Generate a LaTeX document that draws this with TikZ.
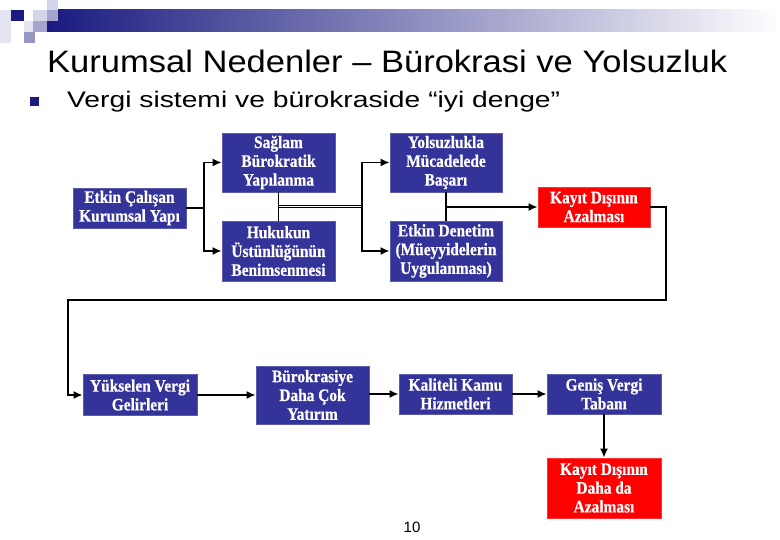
\documentclass[tikz,border=0pt]{standalone}
\usepackage{fontspec}
\usepackage{graphicx}
\setmainfont{Liberation Serif}
\newfontfamily\arialf{Liberation Sans}
\newfontfamily\boxfont{Liberation Serif}[FakeStretch=0.88, FakeBold=0.6]
\usetikzlibrary{arrows.meta}
\definecolor{boxblue}{HTML}{333399}
\definecolor{boxred}{HTML}{FF0000}
\definecolor{navyd}{HTML}{1A1A80}
\definecolor{lavA}{HTML}{E4E4F2}
\definecolor{lavB}{HTML}{D4D4EA}
\definecolor{lavC}{HTML}{A4A4CE}
\definecolor{lavD}{HTML}{9696C4}
\tikzset{
  box/.style={fill=boxblue, draw=boxblue!80!white, line width=0.8pt, text=white,
    font=\boxfont\bfseries\fontsize{17.5}{18.8}\selectfont, align=center, inner sep=0pt},
  redbox/.style={box, fill=boxred, draw=boxred!80!white},
  conn/.style={line width=1.7pt, black},
  arr/.style={conn, -{Latex[length=9pt,width=8pt]}}
}
\begin{document}
\begin{tikzpicture}[x=1pt,y=-1pt]
\useasboundingbox (0,0) rectangle (780,540);
% decoration
\shade[left color=navyd, right color=white] (47,10) rectangle (780,32);
\fill[lavA] (0,10) rectangle (11,43);
\fill[navyd] (11,10) rectangle (24,21);
\fill[lavB] (33,10) rectangle (47,21);
\fill[lavB] (47,0) rectangle (58,10);
\fill[lavC] (47,10) rectangle (58,21);
\fill[lavA] (24,21) rectangle (33,32);
\fill[lavC] (33,21) rectangle (47,32);
\fill[lavD] (24,32) rectangle (35,43);
% title
\node[anchor=west, inner sep=0pt] (title) at (47,61)
  {\resizebox{680pt}{\height}{\arialf\fontsize{31}{33}\selectfont Kurumsal Nedenler – Bürokrasi ve Yolsuzluk}};
\fill[navyd] (30,97) rectangle (39,106);
\node[anchor=west, inner sep=0pt] (bullet) at (67,102)
  {\resizebox{493pt}{\height}{\arialf\fontsize{22.5}{24}\selectfont Vergi sistemi ve bürokraside “iyi denge”}};
% boxes
\node[box, minimum width=113pt, minimum height=40pt] (etkin) at (129.5,208) {Etkin Çalışan\\Kurumsal Yapı};
\node[box, minimum width=113pt, minimum height=59pt] (saglam) at (278.5,162.5) {Sağlam\\Bürokratik\\Yapılanma};
\node[box, minimum width=113pt, minimum height=60pt] (hukuk) at (278.5,251) {Hukukun\\Üstünlüğünün\\Benimsenmesi};
\node[box, minimum width=112pt, minimum height=59pt] (yolsuz) at (446,162.5) {Yolsuzlukla\\Mücadelede\\Başarı};
\node[box, minimum width=112pt, minimum height=60pt] (denetim) at (446,251) {Etkin Denetim\\(Müeyyidelerin\\Uygulanması)};
\node[redbox, minimum width=112pt, minimum height=40pt] (kayit1) at (594,207) {Kayıt Dışının\\Azalması};
\node[box, minimum width=114pt, minimum height=41pt] (yuksel) at (140,395) {Yükselen Vergi\\Gelirleri};
\node[box, minimum width=113pt, minimum height=58pt] (burok) at (312.5,395) {Bürokrasiye\\Daha Çok\\Yatırım};
\node[box, minimum width=113pt, minimum height=40pt] (kalite) at (455.5,394) {Kaliteli Kamu\\Hizmetleri};
\node[box, minimum width=114pt, minimum height=40pt] (genis) at (604,394) {Geniş Vergi\\Tabanı};
\node[redbox, minimum width=114pt, minimum height=60pt] (kayit2) at (604,488) {Kayıt Dışının\\Daha da\\Azalması};
\node[inner sep=0pt, font=\arialf\fontsize{15}{16}\selectfont] (page) at (412,527) {10};
% connectors
\coordinate (f1) at (204,208);
\coordinate (j1) at (278.5,206.5);
\coordinate (f2) at (362,206.5);
\coordinate (c1) at (666,300);
\coordinate (c2) at (68,300);
\draw[conn] (etkin.east) -- (f1);
\draw[arr] (f1) |- (saglam.west);
\draw[arr] (f1) |- (hukuk.west);
\draw[conn] (saglam.south) -- (hukuk.north);
\draw[conn, line width=1.2pt, double, double distance=1.4pt] (j1) -- (f2);
\draw[arr] (f2) |- (yolsuz.west);
\draw[arr] (f2) |- (denetim.west);
\draw[conn] (yolsuz.south) -- (denetim.north);
\draw[arr] (yolsuz.south |- kayit1.west) -- (kayit1.west);
\draw[arr] (kayit1.east) -| (c1) -- (c2) |- (yuksel.west);
\draw[arr] (yuksel.east) -- (yuksel.east -| burok.west);
\draw[arr] (burok.east |- kalite.west) -- (kalite.west);
\draw[arr] (kalite.east) -- (genis.west);
\draw[arr] (genis.south) -- (kayit2.north);
\end{tikzpicture}
\end{document}
